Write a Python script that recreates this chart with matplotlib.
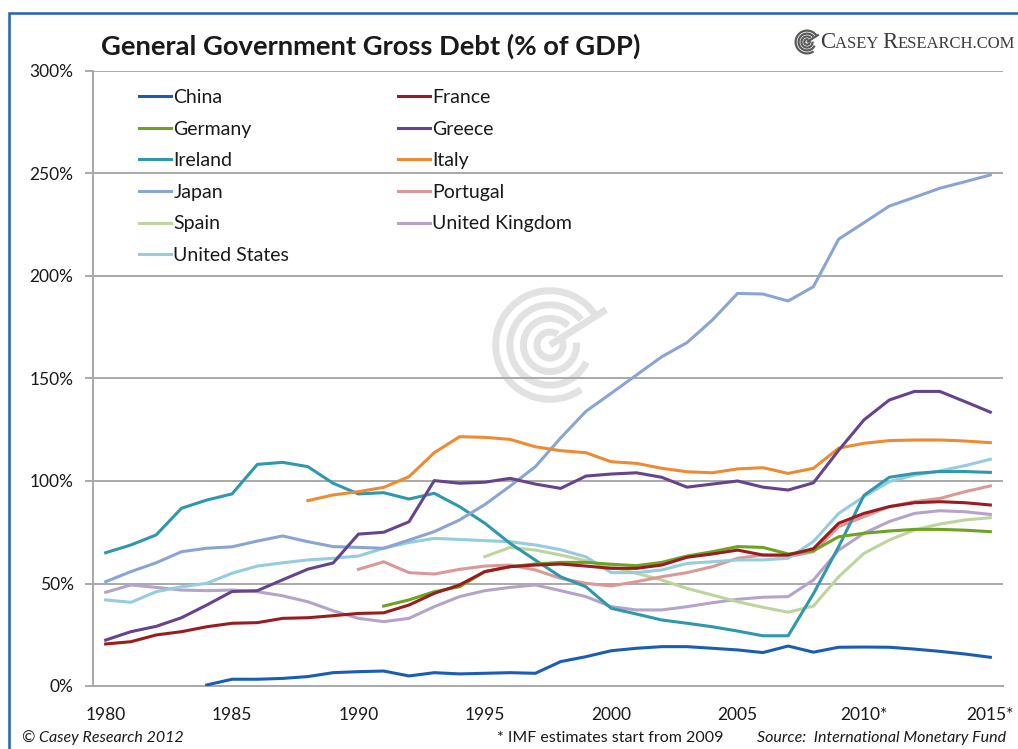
#!/usr/bin/env python3

# ========================================================================
#
# Imports
#
# ========================================================================
import numpy as np
import matplotlib as mpl
mpl.use('Agg')
import matplotlib.pyplot as plt
from matplotlib.patches import Arc, Rectangle
from matplotlib.offsetbox import TextArea, HPacker, AnchoredOffsetbox

# ========================================================================
#
# Data (gross government debt, % of GDP)
#
# ========================================================================
nan = np.nan
years = list(range(1980, 2016))

china = [nan, nan, nan, nan, 0.5, 3.3, 3.3, 3.7, 4.6, 6.5,
         7.0, 7.3, 4.9, 6.5, 5.9, 6.2, 6.5, 6.2, 11.9, 14.3,
         17.2, 18.4, 19.2, 19.2, 18.4, 17.6, 16.3, 19.5, 16.5, 18.9,
         19.0, 18.9, 18.0, 16.9, 15.6, 14.0]
france = [20.5, 21.6, 24.9, 26.5, 28.9, 30.6, 30.9, 33.0, 33.3, 34.3,
          35.4, 35.7, 39.5, 45.2, 49.3, 55.8, 58.2, 59.0, 59.5, 58.5,
          57.4, 57.4, 59.0, 62.8, 64.4, 66.3, 63.9, 63.9, 67.0, 79.4,
          84.2, 87.5, 89.4, 89.9, 89.4, 88.3]
germany = [nan, nan, nan, nan, nan, nan, nan, nan, nan, nan,
           nan, 39.0, 42.0, 46.0, 48.4, 55.8, 58.2, 59.5, 60.3, 60.3,
           59.4, 58.7, 60.3, 63.4, 65.5, 68.0, 67.6, 64.4, 66.0, 72.8,
           74.5, 75.6, 76.4, 76.4, 76.0, 75.3]
greece = [22.4, 26.5, 29.1, 33.3, 39.5, 46.1, 46.5, 51.8, 57.0, 60.0,
          74.1, 75.0, 80.1, 100.2, 98.9, 99.4, 101.3, 98.5, 96.4, 102.4,
          103.4, 104.0, 101.8, 97.0, 98.5, 100.0, 97.0, 95.6, 99.1, 115.0,
          129.8, 139.5, 143.7, 143.7, 138.7, 133.6]
ireland = [65.0, 68.8, 73.7, 86.7, 90.7, 93.7, 108.1, 109.1, 107.0, 98.9,
           93.7, 94.3, 91.2, 94.0, 87.5, 79.4, 69.6, 61.4, 53.3, 48.4,
           37.9, 35.1, 32.2, 30.6, 28.9, 26.8, 24.5, 24.5, 45.0, 68.0,
           93.0, 101.8, 103.7, 104.6, 104.6, 104.2]
italy = [nan, nan, nan, nan, nan, nan, nan, nan, 90.4, 93.2,
         94.8, 96.9, 102.1, 113.8, 121.6, 121.3, 120.3, 116.7, 114.8, 113.8,
         109.4, 108.6, 106.2, 104.5, 104.0, 105.9, 106.5, 103.7, 106.2, 116.0,
         118.4, 119.7, 120.0, 120.0, 119.5, 118.7]
japan = [50.9, 55.8, 60.1, 65.5, 67.2, 67.9, 70.7, 73.2, 70.4, 68.0,
         67.6, 67.2, 71.2, 75.3, 81.0, 88.5, 97.5, 107.0, 121.0, 134.0,
         142.8, 151.7, 160.6, 167.5, 178.5, 191.5, 191.2, 187.8, 194.8, 218.0,
         226.0, 234.1, 238.4, 242.8, 246.0, 249.3]
portugal = [nan, nan, nan, nan, nan, nan, nan, nan, nan, nan,
            56.9, 60.6, 55.3, 54.6, 56.9, 58.5, 59.0, 56.6, 52.5, 50.1,
            48.8, 50.9, 53.3, 55.3, 58.2, 62.3, 63.9, 63.1, 65.5, 77.7,
            82.6, 87.5, 89.9, 91.5, 94.8, 97.6]
spain = [nan, nan, nan, nan, nan, nan, nan, nan, nan, nan,
         nan, nan, nan, nan, nan, 63.1, 67.6, 66.3, 63.9, 61.1,
         58.2, 55.0, 51.7, 47.6, 44.4, 41.1, 38.4, 36.0, 39.0, 53.3,
         64.7, 71.2, 76.1, 79.0, 81.0, 82.1]
uk = [45.7, 49.3, 48.1, 46.8, 46.5, 46.8, 46.0, 44.0, 41.1, 36.7,
      33.0, 31.4, 33.0, 38.7, 43.6, 46.5, 48.1, 49.3, 46.5, 43.6,
      38.7, 37.1, 37.1, 38.7, 40.6, 42.3, 43.3, 43.6, 51.7, 66.3,
      74.5, 80.2, 84.2, 85.5, 85.0, 83.7]
us = [42.0, 40.8, 46.0, 48.4, 50.1, 55.0, 58.5, 60.1, 61.5, 62.3,
      63.4, 67.2, 70.0, 72.0, 71.5, 70.9, 70.4, 68.8, 66.5, 63.0,
      55.3, 55.3, 56.6, 59.8, 60.6, 61.5, 61.5, 62.3, 70.5, 84.2,
      92.4, 99.7, 102.9, 104.9, 107.5, 110.6]

yticks = [0, 50, 100, 150, 200, 250, 300]
xticks = [1980, 1985, 1990, 1995, 2000, 2005, 2010, 2015]
xticklabels = ['1980', '1985', '1990', '1995', '2000', '2005', '2010*', '2015*']

# ========================================================================
#
# Styles
#
# ========================================================================
plt.rcParams['font.family'] = ['Lato', 'DejaVu Sans']

series = [
    ('China', china, '#1A5DB5'),
    ('Germany', germany, '#6EA320'),
    ('Ireland', ireland, '#2F97AE'),
    ('Japan', japan, '#8AA5D3'),
    ('Spain', spain, '#BDD59D'),
    ('United States', us, '#95CCDE'),
    ('France', france, '#9A1C20'),
    ('Greece', greece, '#66438C'),
    ('Italy', italy, '#EC8B33'),
    ('Portugal', portugal, '#DA9896'),
    ('United Kingdom', uk, '#B4A4C9'),
]
# drawing order (back to front)
draw_order = ['United Kingdom', 'Spain', 'Portugal', 'United States', 'Ireland',
              'Japan', 'Italy', 'Greece', 'Germany', 'France', 'China']

grid_col = '#A9A9A9'
text_col = '#1A1A1A'


def swirl(ax, cx, cy, r, color, lw):
    """Concentric open rings with a pointer, used as the house mark."""
    for k, f in enumerate([0.22, 0.45, 0.68, 0.92]):
        ax.add_patch(Arc((cx, cy), 2 * r * f, 2 * r * f, theta1=55 - 8 * k,
                         theta2=395 - 30 * k, color=color, lw=lw))
    ax.plot([cx, cx + 0.95 * r], [cy, cy + 0.6 * r], color=color, lw=lw,
            solid_capstyle='butt')


# ========================================================================
#
# Figure
#
# ========================================================================
W, H = 1018, 749
fig = plt.figure(figsize=(W / 100, H / 100), dpi=100)

# blue outer frame (runs off the right and bottom edges)
frame = Rectangle((9 / W, -0.2), 1.2, 1 - 13 / H + 0.2,
                  transform=fig.transFigure, fc='none', ec='#1F63B3',
                  lw=1.8, zorder=0)
fig.patches.append(frame)

# faint watermark behind the lines
wm = fig.add_axes([488 / W, 1 - 410 / H, 124 / W, 130 / H], zorder=0)
wm.set_xlim(-1.05, 1.05)
wm.set_ylim(-1.05, 1.05)
wm.set_aspect('equal')
wm.axis('off')
swirl(wm, 0, 0, 1.0, '#E2E2E2', 5)

ax = fig.add_axes([93 / W, 1 - 686 / H, 910 / W, 615 / H], zorder=1)
ax.patch.set_alpha(0)

lines = {}
for name, vals, col in series:
    lines[name], = ax.plot(years, vals, color=col, lw=2.2, label=name,
                           solid_joinstyle='round')
for z, name in enumerate(draw_order):
    lines[name].set_zorder(3 + z * 0.1)

# axes formatting
ax.set_xlim(1979.5, 2015.5)
ax.set_ylim(0, 300)
ax.set_yticks(yticks)
ax.set_yticklabels(['{0:d}%'.format(v) for v in yticks])
ax.set_xticks(xticks)
ax.set_xticklabels(xticklabels)
ax.yaxis.grid(True, color=grid_col, lw=1.4)
ax.set_axisbelow(True)
for s in ['top', 'right']:
    ax.spines[s].set_visible(False)
for s in ['left', 'bottom']:
    ax.spines[s].set_color(grid_col)
    ax.spines[s].set_linewidth(1.4)
ax.tick_params(axis='y', length=6, width=1.4, color=grid_col, pad=8,
               labelsize=12.5, labelcolor=text_col)
ax.tick_params(axis='x', length=0, pad=15, labelsize=12.5, labelcolor=text_col)

# legend in two columns
handles = [lines[name] for name, _, _ in series]
leg_kw = dict(frameon=False, fontsize=14, handlelength=1.65, handletextpad=0.12,
              labelspacing=0.75, borderpad=0, borderaxespad=0, loc='upper left')
leg1 = ax.legend(handles[:6], [h.get_label() for h in handles[:6]],
                 bbox_to_anchor=(139 / W, 1 - 89 / H),
                 bbox_transform=fig.transFigure, **leg_kw)
for t in leg1.get_texts():
    t.set_color(text_col)
ax.add_artist(leg1)
leg2 = ax.legend(handles[6:], [h.get_label() for h in handles[6:]],
                 bbox_to_anchor=(398 / W, 1 - 89 / H),
                 bbox_transform=fig.transFigure, **leg_kw)
for t in leg2.get_texts():
    t.set_color(text_col)

# title and house mark
fig.text(101 / W, 1 - 46 / H, 'General Government Gross Debt (% of GDP)',
         fontsize=19.7, fontweight='bold', color=text_col, va='center', ha='left')

logo = fig.add_axes([794 / W, 1 - 56 / H, 26 / W, 28 / H])
logo.set_xlim(-1.05, 1.05)
logo.set_ylim(-1.05, 1.05)
logo.set_aspect('equal')
logo.axis('off')
swirl(logo, 0, 0, 1.0, '#5A5A5A', 1.6)

serif = ['Liberation Serif', 'DejaVu Serif']
parts = [('C', 16.5), ('ASEY ', 12), ('R', 16.5), ('ESEARCH.COM', 12)]
box = HPacker(children=[TextArea(s, textprops=dict(fontsize=fs, family=serif,
                                                   color='#3C3C3C'))
                        for s, fs in parts],
              align='baseline', pad=0, sep=0)
anch = AnchoredOffsetbox(loc='center left', child=box, pad=0, frameon=False,
                         bbox_to_anchor=(820 / W, 1 - 43 / H),
                         bbox_transform=fig.transFigure, borderpad=0)
fig.add_artist(anch)

# footer notes
fig.text(22 / W, 1 - 738 / H, '\u00a9 Casey Research 2012', fontsize=11.5,
         style='italic', color=text_col, va='center', ha='left')
fig.text(497 / W, 1 - 738 / H, '* IMF estimates start from 2009', fontsize=11.5,
         color=text_col, va='center', ha='left')
fig.text(1006 / W, 1 - 738 / H, 'Source:  International Monetary Fund',
         fontsize=11.5, style='italic', color=text_col, va='center', ha='right')

plt.savefig('out.png', dpi=100)
